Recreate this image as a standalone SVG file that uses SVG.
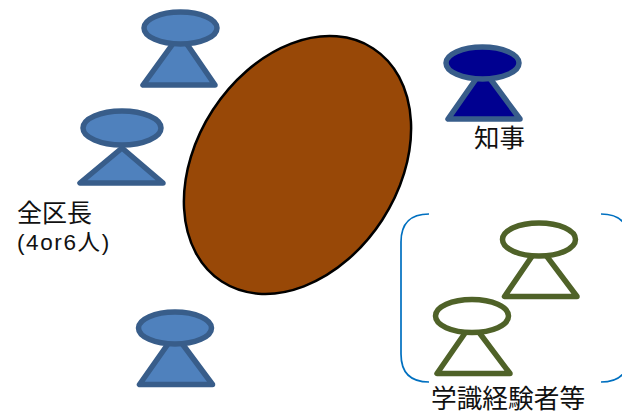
<svg xmlns="http://www.w3.org/2000/svg" width="622" height="414" viewBox="0 0 622 414">
<style>
.p{stroke-width:5.5;stroke-linejoin:round}
.b{fill:#4f81bd;stroke:#385d8a}
.k{fill:#000090;stroke:#385d8a}
.g{fill:#fff;stroke:#4f6228}
text{font-family:"Noto Sans CJK JP","Liberation Sans",sans-serif;fill:#111}
.br{fill:none;stroke:#0070c0;stroke-width:1.7}
</style>
<rect width="622" height="414" fill="#fff"/>
<g id="center"><ellipse cx="297.500" cy="165" rx="101" ry="139" transform="rotate(33 297.500 165)" fill="#984807" stroke="#000" stroke-width="2.500"/></g>
<g id="ward1" class="p b"><polygon points="180,34 143,85 215,85"/><ellipse cx="180.500" cy="28" rx="36.500" ry="16"/></g>
<g id="ward2" class="p b"><polygon points="122,148 80,183 163,183"/><ellipse cx="122" cy="128" rx="39" ry="17"/></g>
<g id="ward3" class="p b"><polygon points="175,334 139.500,384.500 212.500,384.500"/><ellipse cx="175" cy="328" rx="36.500" ry="16"/></g>
<g id="governor"><g class="p k"><polygon points="483,69 448,119 520,119"/><ellipse cx="482.500" cy="63" rx="36.500" ry="16"/></g><text x="474" y="147" font-size="25.500">知事</text></g>
<g id="wards-label"><text x="17" y="222" font-size="25">全区長</text><text x="17" y="250" font-size="22.500" letter-spacing="1.600" style="font-family:'Liberation Sans','Noto Sans CJK JP',sans-serif">(4or6人)</text></g>
<g id="expert1" class="p g"><polygon points="539,246 504.500,296.500 577,296.500"/><ellipse cx="539" cy="239.500" rx="36.500" ry="16.500"/></g>
<g id="expert2" class="p g"><polygon points="472,323 437,373.500 510,373.500"/><ellipse cx="472" cy="316" rx="36.500" ry="16.500"/></g>
<g id="experts-bracket"><path class="br" d="M429 214Q401 214 401 242V354Q401 382 429 382"/><path class="br" d="M601 214Q629 214 629 242V354Q629 382 601 382"/></g>
<text id="experts-label" x="431" y="408" font-size="25.700">学識経験者等</text>
</svg>
